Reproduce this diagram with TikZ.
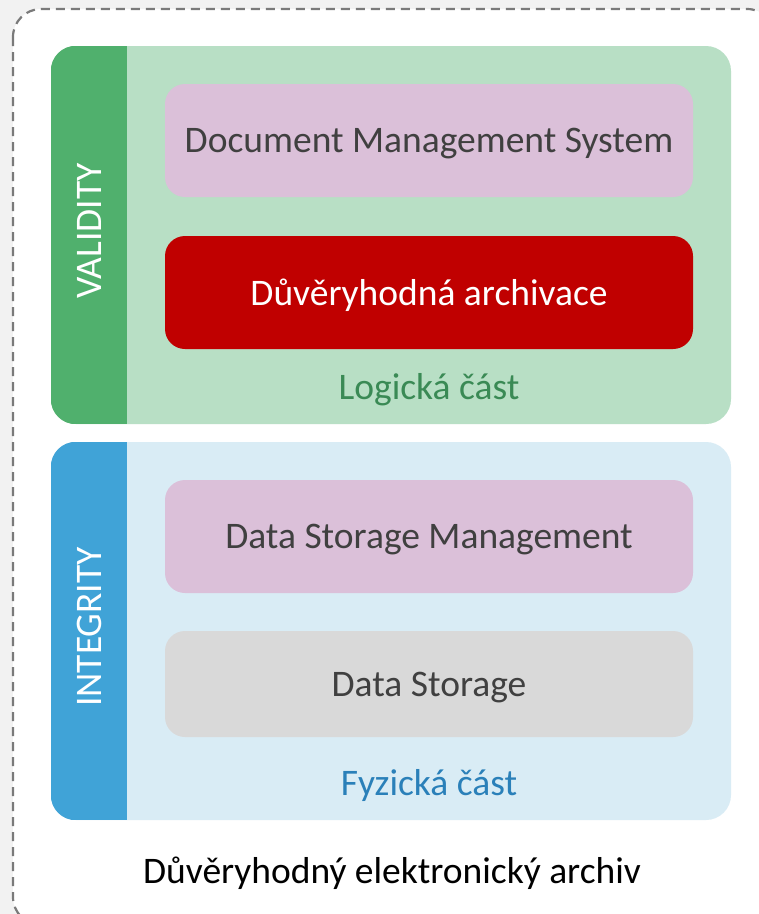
\documentclass[tikz,border=0pt]{standalone}
\usepackage{fontspec}
\setmainfont{Carlito}
\definecolor{pagegray}{HTML}{F2F2F2}
\definecolor{framegray}{HTML}{7A7A7A}
\definecolor{validdark}{HTML}{50B06D}
\definecolor{validlight}{HTML}{B8DFC5}
\definecolor{integdark}{HTML}{40A3D7}
\definecolor{integlight}{HTML}{D9ECF5}
\definecolor{layerpink}{HTML}{DBC0D9}
\definecolor{layerred}{HTML}{C00000}
\definecolor{layergray}{HTML}{D9D9D9}
\definecolor{textgray}{HTML}{404040}
\definecolor{logictext}{HTML}{3A8A55}
\definecolor{phystext}{HTML}{2A80B9}

\begin{document}
\begin{tikzpicture}[x=1pt, y=-1pt,
	bigfont/.style={font=\fontsize{37.5}{44}\selectfont, text depth=0pt},
	panel/.style={rounded corners=25pt, minimum width=680pt, minimum height=378pt, inner sep=0pt},
	layer/.style={rounded corners=20pt, minimum width=528pt, inner sep=0pt, bigfont, text=textgray},
	strip/.style={rotate=90, bigfont, text=white}]
	\useasboundingbox (0,0) rectangle (759,914);
	\fill[pagegray] (0,0) rectangle (759,914);
	\draw[framegray, fill=white, line width=2.2pt, dash pattern=on 9pt off 6pt, rounded corners=28pt]
		(13,9) rectangle (775,925);

	% logical part
	\node[panel, fill=validlight] (logic) at (391, 235) {};
	\begin{scope}
		\clip[rounded corners=25pt] (logic.north west) rectangle (logic.south east);
		\fill[validdark] (logic.north west) rectangle (127, 424);
	\end{scope}
	\node[strip] (validity) at (89, 231) {VALIDITY};
	\node[layer, fill=layerpink, minimum height=113pt] (dms) at (429, 140.5) {Document Management System};
	\node[layer, fill=layerred, minimum height=113pt, text=white] (trusted) at (429, 292.5) {Důvěryhodná archivace};
	\node[bigfont, text=logictext] (logiclabel) at (429, 386) {Logická část};

	% physical part
	\node[panel, fill=integlight] (phys) at (391, 631) {};
	\begin{scope}
		\clip[rounded corners=25pt] (phys.north west) rectangle (phys.south east);
		\fill[integdark] (phys.north west) rectangle (127, 820);
	\end{scope}
	\node[strip] (integrity) at (89, 627) {INTEGRITY};
	\node[layer, fill=layerpink, minimum height=113pt] (dsm) at (429, 536.5) {Data Storage Management};
	\node[layer, fill=layergray, minimum height=106pt] (storage) at (429, 684) {Data Storage};
	\node[bigfont, text=phystext] (physlabel) at (429, 782) {Fyzická část};

	\node[bigfont, text=black] (archive) at (392, 870) {Důvěryhodný elektronický archiv};
\end{tikzpicture}
\end{document}
